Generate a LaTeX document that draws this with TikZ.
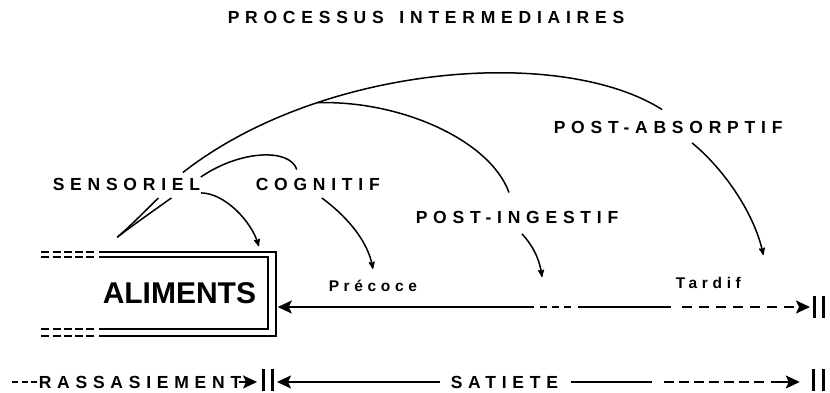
\documentclass[tikz,border=0pt]{standalone}
\usepackage{fontspec}
\setmainfont{Liberation Sans}
\newfontfamily\lblfont[LetterSpace=33]{Liberation Sans}
\newfontfamily\smlfont[LetterSpace=30]{Liberation Sans}
\usepackage{tikz}
\usetikzlibrary{arrows,arrows.meta}

\begin{document}
\begin{tikzpicture}[x=1pt,y=-1pt,->,>=stealth',line width=1.5pt,
  main node/.style={inner sep=0pt,anchor=base west,font=\lblfont\bfseries\fontsize{17.5}{20}\selectfont},
  small node/.style={inner sep=0pt,anchor=base west,font=\smlfont\bfseries\fontsize{15.5}{18}\selectfont},
  big tip/.style={-{Stealth[length=14pt,width=13pt,inset=3pt]},line width=2pt},
  bar/.style={-,line width=3pt},
  flat/.style={-,line width=2pt}]
  \useasboundingbox (0,0) rectangle (830,392);
  \node[main node] (titre) at (227,23) {PROCESSUS\hspace{5pt} INTERMEDIAIRES};
  \node[main node] (sensoriel) at (52,190) {SENSORIEL};
  \node[main node] (cognitif) at (255,190) {COGNITIF};
  \node[main node] (post_ing) at (415,223) {POST-INGESTIF};
  \node[main node] (post_abs) at (553,133) {POST-ABSORPTIF};
  \node[small node] (precoce) at (328,291) {Précoce};
  \node[small node] (tardif) at (675,288) {Tardif};
  \node[main node] (rassas) at (38,388) {RASSASIEMENT};
  \node[main node] (satiete) at (450,388) {SATIETE};

  % aliments box, open to the left
  \node[minimum width=175pt,minimum height=82pt,inner sep=0pt] (box) at (187.5,294) {};
  \node[inner sep=0pt,anchor=base west,font=\bfseries\fontsize{30}{32}\selectfont] (aliments) at (102,303) {ALIMENTS};
  \draw[flat] (box.north west) -- (box.north east) -- (box.south east) -- (box.south west);
  \draw[flat] ([yshift=-5pt]box.north west) -- ([xshift=-8pt,yshift=-5pt]box.north east)
    -- ([xshift=-8pt,yshift=7pt]box.south east) -- ([yshift=7pt]box.south west);
  \foreach \a/\s in {north west/0,north west/-5,south west/0,south west/7}
    \draw[flat,dash pattern=on 8pt off 3.25pt] ([xshift=-58pt,yshift=\s pt]box.\a) -- ([xshift=-5pt,yshift=\s pt]box.\a);

  % curves
  \draw[-] ([xshift=-18pt,yshift=4.5pt]sensoriel.north east) .. controls (320,65) and (560,45) ..
    ([xshift=-6pt,yshift=10.5pt]post_abs.north) coordinate[pos=0.28] (split);
  \draw[-] (split) .. controls (400,100) and (490,140) .. ([xshift=-8pt,yshift=17.5pt]post_ing.north);
  \draw[-] (sensoriel.north east) .. controls (240,150) and (290,148) .. ([xshift=-21pt,yshift=7.5pt]cognitif.north);
  \draw[->] ([yshift=-2pt]sensoriel.south east) .. controls (225,193) and (252,222) .. ([xshift=-17pt,yshift=6pt]box.north east);
  \coordinate (fork) at ([xshift=18pt,yshift=15pt]box.north west);
  \draw[-] (fork) .. controls (130,226) .. ([xshift=32pt,yshift=-7pt]sensoriel.south);
  \draw[-] (fork) .. controls (132,226) .. ([xshift=45pt,yshift=-7pt]sensoriel.south);
  \draw[->] ([xshift=4pt,yshift=-7pt]cognitif.south) .. controls (345,215) and (368,240) .. ([yshift=10pt]precoce.north);
  \coordinate (ing_end) at (542,277);
  \draw[->] ([xshift=5pt,yshift=-10pt]post_ing.south) .. controls (535,248) and (540,262) .. (ing_end);
  \draw[->] ([xshift=24pt,yshift=-9pt]post_abs.south) .. controls (725,170) and (755,215) .. ([xshift=55pt,yshift=21pt]tardif.north);

  % middle line
  \coordinate (m0) at ([xshift=2pt,yshift=-13pt]box.east);
  \coordinate (m1) at (534,307);
  \coordinate (m2) at (540,307);
  \coordinate (m3) at (571,307);
  \coordinate (m4) at (578,307);
  \coordinate (m5) at (671,307);
  \coordinate (m6) at (682,307);
  \coordinate (m7) at (810,307);
  \draw[big tip] (m1) -- (m0);
  \draw[flat,dash pattern=on 7pt off 5pt] (m2) -- (m3);
  \draw[flat] (m4) -- (m5);
  \draw[big tip,dash pattern=on 10pt off 7pt] (m6) -- (m7);
  \foreach \x in {814,823}
    \draw[bar] (\x,296) -- (\x,318);

  % bottom line
  \draw[flat,dash pattern=on 6pt off 3.5pt] ([xshift=-1pt]rassas.west) -- ++(-25,0);
  \draw[big tip] ([xshift=-3pt]rassas.east) -- ++(18,0);
  \foreach \x in {263,272,813,823}
    \draw[bar] (\x,369) -- (\x,391);
  \draw[big tip] ([xshift=-10pt]satiete.west) -- ++(-163,0);
  \draw[flat] ([xshift=12pt]satiete.east) -- ++(81,0);
  \draw[flat,dash pattern=on 10pt off 5pt] ([xshift=105pt]satiete.east) -- ++(100,0);
  \draw[big tip] ([xshift=212pt]satiete.east) -- ++(29,0);
\end{tikzpicture}
\end{document}
